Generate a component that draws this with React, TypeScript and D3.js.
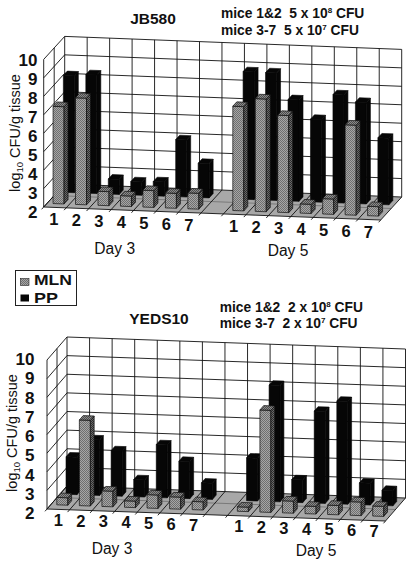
import React from 'react';
import * as d3 from 'd3';

const slots = ['1', '2', '3', '4', '5', '6', '7', '', '1', '2', '3', '4', '5', '6', '7'];
const ticks = [2, 3, 4, 5, 6, 7, 8, 9, 10];

const jbMLN = [7.27, 7.78, 2.76, 2.57, 2.91, 2.81, 2.86, null, 7.65, 8.11, 7.26, 2.5, 2.83, 6.88, 2.51];
const jbPP = [8.33, 8.43, 2.82, 2.72, 2.77, 5.09, 3.86, null, 8.92, 8.91, 7.5, 6.48, 7.86, 7.5, 5.61];
const yedsMLN = [2.4, 6.6, 2.84, 2.35, 2.72, 2.65, 2.44, null, 2.24, 7.48, 2.65, 2.41, 2.5, 2.73, 2.54];
const yedsPP = [4.01, 4.98, 4.43, 2.92, 4.84, 3.99, 2.87, null, 4.3, 8.25, 3.22, 6.94, 7.52, 3.17, 2.82];

interface PanelProps {
    title: string;
    titleX: number;
    titleY: number;
    note: [string, string, string, string];
    noteX: number;
    noteY: number;
    noteGap: number;
    mln: (number | null)[];
    pp: (number | null)[];
    left: number;
    right: number;
    floorY: number;
    rise: number;
    wallH: number;
    skewX: number;
    skewY: number;
    mlnDepth: number;
    labelX: number;
    labelY: number;
    tickRight: number;
    tickBase: [number, number];
    day3: [number, number];
    day5: [number, number];
    axisLabelX: number;
    axisLabelY: number;
}

const Panel: React.FC<PanelProps> = (p) => {
    const indices = slots.map((_, i) => String(i));
    const xBand = d3.scaleBand().domain(indices).range([p.left, p.right]);
    const slotW = xBand.bandwidth();
    const dx = d3.scaleLinear().domain([0, 1]).range([0, p.skewX]);
    const dy = d3.scaleLinear().domain([0, 1]).range([0, -p.skewY]);
    const vy = d3.scaleLinear().domain([2, 10]).range([0, -p.wallH]);
    const slope = d3.scaleLinear().domain([p.left, p.right]).range([0, p.rise]);
    const tickY = d3.scaleLinear().domain([2, 10]).range(p.tickBase);

    // x along the front edge, depth 0 front to 1 back, v value
    const proj = (x: number, d: number, v: number): [number, number] => [
        x + dx(d),
        p.floorY + slope(x) + dy(d) + vy(v),
    ];
    const line = d3.line();
    const poly = (pts: [number, number][]) => line(pts) + 'Z';

    const barW = 11;
    const barD = 0.19;
    const inset = 6;

    const bar = (i: number, v: number | null, d0: number, kind: 'mln' | 'pp') => {
        if (v === null) return null;
        const x0 = (xBand(String(i)) as number) + inset;
        const x1 = x0 + barW;
        const d1 = d0 + barD;
        const front = poly([proj(x0, d0, 2), proj(x1, d0, 2), proj(x1, d0, v), proj(x0, d0, v)]);
        const side = poly([proj(x1, d0, 2), proj(x1, d1, 2), proj(x1, d1, v), proj(x1, d0, v)]);
        const top = poly([proj(x0, d0, v), proj(x1, d0, v), proj(x1, d1, v), proj(x0, d1, v)]);
        if (kind === 'pp') {
            return (
                <g key={i} fill="#060606" stroke="#060606" strokeWidth={0.6}>
                    <path d={front} />
                    <path d={side} />
                    <path d={top} />
                </g>
            );
        }
        return (
            <g key={i} stroke="#111" strokeWidth={0.7}>
                <path d={front} fill="url(#dither)" />
                <path d={side} fill="url(#ditherDark)" />
                <path d={top} fill="url(#ditherTop)" />
            </g>
        );
    };

    const xEdges = slots.map((_, i) => xBand(String(i)) as number).concat(p.right);

    return (
        <g>
            {/* walls */}
            <path d={poly([proj(p.left, 1, 2), proj(p.right, 1, 2), proj(p.right, 1, 10), proj(p.left, 1, 10)])} fill="#fff" />
            <path d={poly([proj(p.left, 0, 2), proj(p.right, 0, 2), proj(p.right, 1, 2), proj(p.left, 1, 2)])} fill="#a8a8a8" />
            <g fill="none" stroke="#111" strokeWidth={0.9}>
                {ticks.map((t) => (
                    <path key={t} d={line([proj(p.left, 0, t), proj(p.left, 1, t), proj(p.right, 1, t)]) as string} />
                ))}
                {xEdges.map((x, i) => (
                    <path key={i} d={line([proj(x, 1, 2), proj(x, 1, 10)]) as string} />
                ))}
                <path d={line([proj(p.left, 0, 2), proj(p.left, 0, 10)]) as string} />
                <path d={line([proj(p.left, 0.5, 2), proj(p.left, 0.5, 10)]) as string} />
                {xEdges.map((x, i) => (
                    <path key={i} d={line([proj(x, -0.1, 2), proj(x, 1, 2)]) as string} />
                ))}
                <path d={line([proj(p.left, 0, 2), proj(p.right, 0, 2)]) as string} />
                <path d={line([proj(p.left, 0.5, 2), proj(p.right, 0.5, 2)]) as string} strokeOpacity={0.35} />
            </g>

            {p.pp.map((v, i) => bar(i, v, 0.65, 'pp'))}
            {p.mln.map((v, i) => bar(i, v, p.mlnDepth, 'mln'))}

            {/* y ticks */}
            {ticks.map((t) => (
                <text key={t} x={p.tickRight} y={tickY(t)} textAnchor="end" fontSize={17} fontWeight="bold" fill="#111">
                    {t}
                </text>
            ))}
            {/* x labels */}
            {slots.map((s, i) => {
                const cx = (xBand(String(i)) as number) + slotW / 2;
                const [x, y] = proj(cx, 0, 2);
                return (
                    <text key={i} x={x + p.labelX} y={y + p.labelY} textAnchor="middle" fontSize={16.5} fontWeight="bold" fill="#111">
                        {s}
                    </text>
                );
            })}
            <text x={p.day3[0]} y={p.day3[1]} textAnchor="middle" fontSize={15.6} fill="#111">Day 3</text>
            <text x={p.day5[0]} y={p.day5[1]} textAnchor="middle" fontSize={15.6} fill="#111">Day 5</text>
            <text transform={`translate(${p.axisLabelX},${p.axisLabelY}) rotate(-90)`} textAnchor="middle" fontSize={14.5} fill="#111">
                log<tspan fontSize={9.5} dy={3}>10</tspan><tspan dy={-3}> CFU/g tissue</tspan>
            </text>
            <text x={p.titleX} y={p.titleY} textAnchor="middle" fontSize={15.5} fontWeight="bold" fill="#111">{p.title}</text>
            <text x={p.noteX} y={p.noteY} fontSize={13.8} fontWeight="bold" fill="#111">
                {p.note[0]}<tspan fontSize={8} dy={-5}>{p.note[1]}</tspan><tspan dy={5}> CFU</tspan>
            </text>
            <text x={p.noteX} y={p.noteY + p.noteGap} fontSize={13.8} fontWeight="bold" fill="#111">
                {p.note[2]}<tspan fontSize={8} dy={-5}>{p.note[3]}</tspan><tspan dy={5}> CFU</tspan>
            </text>
        </g>
    );
};

const App: React.FC = () => (
    <svg width={414} height={564} style={{ position: 'absolute', left: 0, top: 0, fontFamily: 'Liberation Sans, Arial, sans-serif' }}>
        <defs>
            <pattern id="dither" width={2} height={2} patternUnits="userSpaceOnUse">
                <rect width={2} height={2} fill="#a6a6a6" />
                <rect width={1} height={1} fill="#6f6f6f" />
                <rect x={1} y={1} width={1} height={1} fill="#6f6f6f" />
            </pattern>
            <pattern id="ditherDark" width={2} height={2} patternUnits="userSpaceOnUse">
                <rect width={2} height={2} fill="#6a6a6a" />
                <rect width={1} height={1} fill="#2c2c2c" />
                <rect x={1} y={1} width={1} height={1} fill="#2c2c2c" />
            </pattern>
            <pattern id="ditherTop" width={2} height={2} patternUnits="userSpaceOnUse">
                <rect width={2} height={2} fill="#8a8a8a" />
                <rect width={1} height={1} fill="#4c4c4c" />
                <rect x={1} y={1} width={1} height={1} fill="#4c4c4c" />
            </pattern>
        </defs>
        <Panel
            title="JB580"
            titleX={153}
            titleY={23.5}
            note={['mice 1&2\u00a0\u00a05 x 10', '8', 'mice 3-7\u00a0\u00a05 x 10', '7']}
            noteX={221}
            noteY={18.3}
            noteGap={16.7}
            mln={jbMLN}
            pp={jbPP}
            left={43.7}
            right={380.7}
            floorY={207}
            rise={13}
            wallH={147.6}
            skewX={21}
            skewY={23}
            mlnDepth={0.16}
            labelX={-1}
            labelY={18}
            tickRight={37.5}
            tickBase={[218, 65.7]}
            day3={[114.7, 254]}
            day5={[288, 256]}
            axisLabelX={19.5}
            axisLabelY={133}
        />
        <Panel
            title="YEDS10"
            titleX={159}
            titleY={324}
            note={['mice 1&2\u00a0\u00a02 x 10', '8', 'mice 3-7\u00a0\u00a02 x 10', '7']}
            noteX={219.7}
            noteY={311.7}
            noteGap={16.6}
            mln={yedsMLN}
            pp={yedsPP}
            left={47}
            right={385.5}
            floorY={509}
            rise={12}
            wallH={149}
            skewX={20}
            skewY={23}
            mlnDepth={0.19}
            labelX={0}
            labelY={16.3}
            tickRight={34.5}
            tickBase={[519, 365]}
            day3={[112, 554]}
            day5={[316, 556]}
            axisLabelX={17}
            axisLabelY={433}
        />
        {/* legend */}
        <rect x={15.5} y={270.5} width={61} height={35} fill="#fff" stroke="#222" strokeWidth={1} />
        <rect x={20.5} y={278.5} width={8.5} height={7} fill="url(#dither)" stroke="#222" strokeWidth={0.6} />
        <rect x={20.5} y={294.5} width={8.5} height={7} fill="#060606" />
        <text x={34} y={285} fontSize={15.5} fontWeight="bold" fill="#111" textLength={38} lengthAdjust="spacingAndGlyphs">MLN</text>
        <text x={34} y={302.5} fontSize={15.5} fontWeight="bold" fill="#111" textLength={24} lengthAdjust="spacingAndGlyphs">PP</text>
    </svg>
);

export default App;
